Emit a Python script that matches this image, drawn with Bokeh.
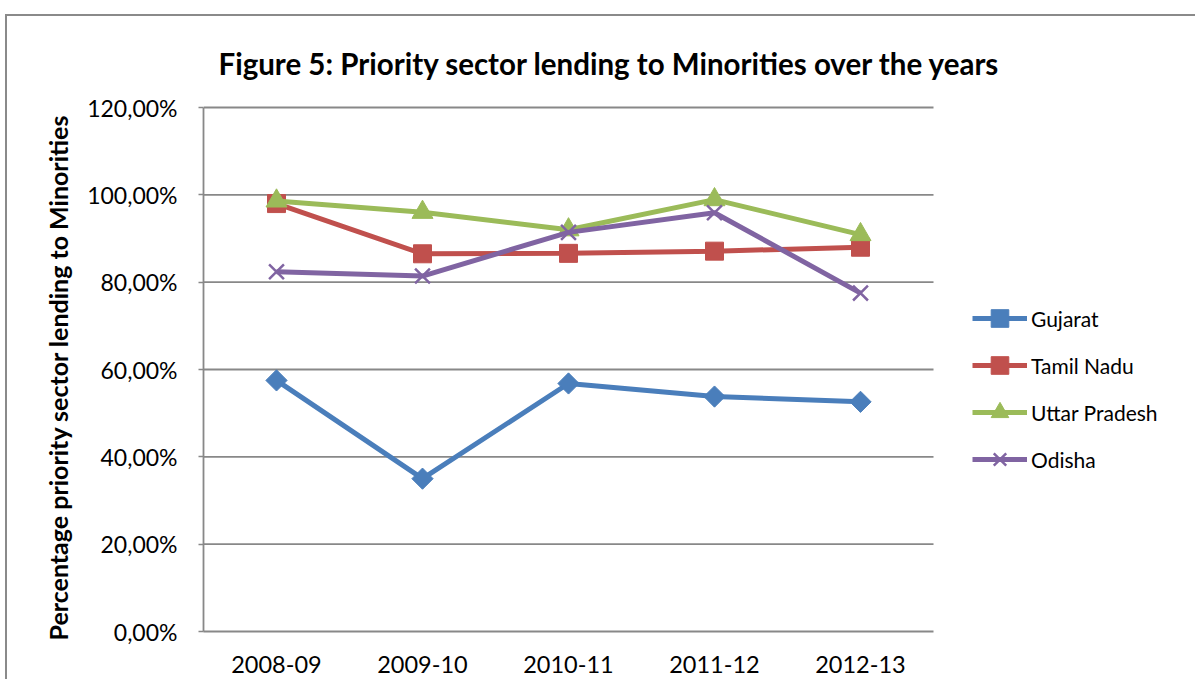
import math
from bokeh.plotting import figure
from bokeh.models import (Range1d, FixedTicker, CustomJSTickFormatter,
                          Legend, LegendItem, Label, Title)
from bokeh.embed import file_html
from bokeh.resources import INLINE

years = ["2008-09", "2009-10", "2010-11", "2011-12", "2012-13"]
gujarat = [57.5, 35.0, 56.8, 53.8, 52.6]
tamil_nadu = [98.0, 86.5, 86.6, 87.1, 88.0]
uttar_pradesh = [98.6, 96.0, 92.0, 98.9, 90.9]
odisha = [82.4, 81.4, 91.4, 95.9, 77.5]
y_ticks = [0, 20, 40, 60, 80, 100, 120]
title_text = "Figure 5: Priority sector lending to Minorities over the years"
y_label = "Percentage priority sector lending to Minorities"

FONT = "Lato"
GRID = "#888888"

# layout in pixels
W = 1190
BL, BB = 196, 50
CAT_W = 730      # width of the category area
PLOT_H = 524     # height of the 0..120 value area
TOP_PAD = 91     # space above the value area (holds the title)
TITLE_BASE = 44  # title baseline distance above the 120% line
H = TOP_PAD + PLOT_H + BB
frame_w = W - BL
n = len(years)
x_end = n * frame_w / CAT_W
y_max = y_ticks[-1]
y_top = y_max * (PLOT_H + TOP_PAD) / PLOT_H
px_per_unit = PLOT_H / y_max
xs = [i + 0.5 for i in range(n)]

p = figure(width=W, height=H, title=None, x_range=Range1d(0, x_end),
           y_range=Range1d(0, y_top), output_backend="svg", toolbar_location=None,
           min_border_left=BL, min_border_right=0, min_border_top=0,
           min_border_bottom=BB)
p.margin = (14, 0, 0, 5)
p.styles = {"border-top": "2px solid #8a8a8a", "border-left": "2px solid #8a8a8a"}

p.outline_line_color = None
p.xgrid.grid_line_color = None
p.ygrid.grid_line_color = None

# horizontal gridlines limited to the category area
gy = y_ticks[1:]
p.segment(x0=[0] * len(gy), y0=gy, x1=[n] * len(gy), y1=gy,
          line_color=GRID, line_width=1.8)

p.yaxis.ticker = FixedTicker(ticks=y_ticks)
p.yaxis.bounds = (0, y_max)
p.yaxis.formatter = CustomJSTickFormatter(code="return tick.toFixed(2).replace('.', ',') + '%';")
p.yaxis.axis_line_color = GRID
p.yaxis.axis_line_width = 1.8
p.yaxis.major_tick_line_color = GRID
p.yaxis.major_tick_line_width = 1.5
p.yaxis.major_tick_out = 5
p.yaxis.major_tick_in = 0
p.yaxis.minor_tick_line_color = None
p.yaxis.major_label_standoff = 21
p.yaxis.major_label_text_font = FONT
p.yaxis.major_label_text_font_size = "23px"
p.yaxis.major_label_text_color = "#000000"

# y-axis title, aligned with the value area rather than the whole frame
ytitle = Title(text=y_label, align="left", offset=-9, standoff=24,
               text_font=FONT, text_font_size="25px", text_font_style="bold",
               text_color="#000000")
p.add_layout(ytitle, "left")

p.xaxis.ticker = FixedTicker(ticks=xs)
p.xaxis.major_label_overrides = {x: y for x, y in zip(xs, years)}
p.xaxis.bounds = (0, n)
p.xaxis.axis_line_color = GRID
p.xaxis.axis_line_width = 1.8
p.xaxis.major_tick_line_color = None
p.xaxis.minor_tick_line_color = None
p.xaxis.major_label_standoff = 18
p.xaxis.major_label_text_font = FONT
p.xaxis.major_label_text_font_size = "23.5px"
p.xaxis.major_label_text_color = "#000000"

# chart title, placed in the space above the value area
title = Label(x=15 / (CAT_W / n), y=y_max + TITLE_BASE / px_per_unit,
              text=title_text, text_font=FONT, text_font_style="bold",
              text_font_size="29.5px", text_color="#000000",
              text_align="left", text_baseline="alphabetic")
p.add_layout(title)

series = [
    ("Gujarat", gujarat, "#4A7EBB", "square", 15, math.pi / 4),
    ("Tamil Nadu", tamil_nadu, "#C0504D", "square", 18, 0),
    ("Uttar Pradesh", uttar_pradesh, "#9BBB59", "triangle", 21, 0),
    ("Odisha", odisha, "#8064A2", "x", 21, 0),
]

items = []
for name, vals, color, marker, size, ang in series:
    lr = p.line(xs, vals, line_color=color, line_width=5)
    if marker == "x":
        sr = p.scatter(xs, vals, marker="x", size=size, line_color=color, line_width=2.5)
    else:
        sr = p.scatter(xs, vals, marker=marker, size=size, angle=ang,
                       fill_color=color, line_color=color)
    items.append(LegendItem(label=name, renderers=[lr, sr]))

legend = Legend(items=items, location=(769, 150), orientation="vertical")
legend.border_line_color = None
legend.background_fill_alpha = 0
legend.padding = 0
legend.margin = 0
legend.spacing = 3
legend.glyph_width = 55
legend.glyph_height = 44
legend.label_height = 44
legend.label_standoff = 4
legend.label_text_font = FONT
legend.label_text_font_size = "21px"
legend.label_text_color = "#000000"
p.add_layout(legend, "center")

open("out.html", "w").write(file_html(p, INLINE))
